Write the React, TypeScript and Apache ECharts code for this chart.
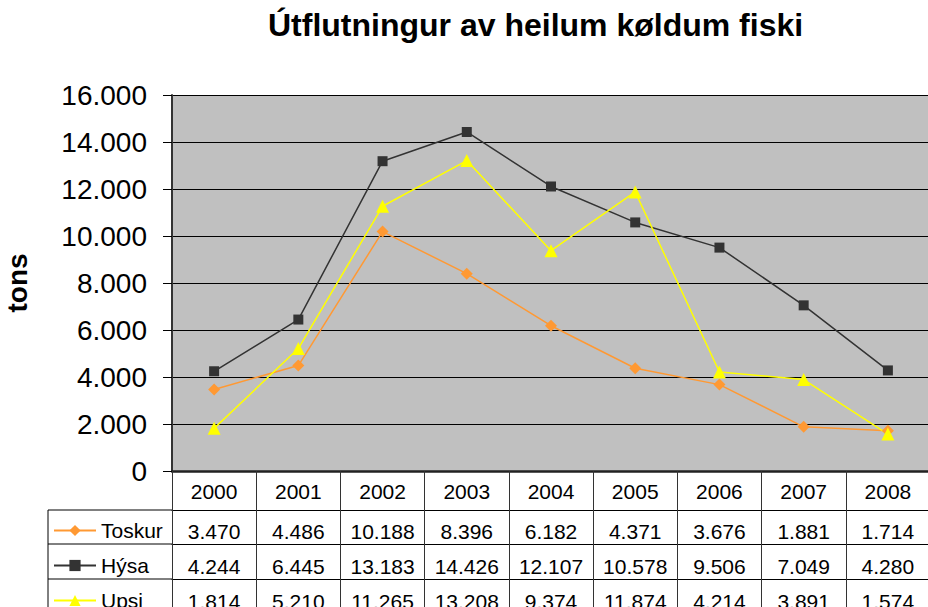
import React, { useEffect, useRef } from "react";
import * as echarts from "echarts";

const years = ["2000", "2001", "2002", "2003", "2004", "2005", "2006", "2007", "2008"];
const toskur = [3470, 4486, 10188, 8396, 6182, 4371, 3676, 1881, 1714];
const hysa = [4244, 6445, 13183, 14426, 12107, 10578, 9506, 7049, 4280];
const upsi = [1814, 5210, 11265, 13208, 9374, 11874, 4214, 3891, 1574];
const seriesNames = ["Toskur", "Hýsa", "Upsi"];
const titleText = "Útflutningur av heilum køldum fiski";
const yName = "tons";

const FONT = "Liberation Sans, Arial, sans-serif";
const fmt = (v: number) => String(v).replace(/\B(?=(\d{3})+(?!\d))/g, ".");

export default function App() {
  const ref = useRef<HTMLDivElement>(null);
  useEffect(() => {
    if (!ref.current) return;
    const chart = echarts.init(ref.current, null, { renderer: "svg" });
    const gridLeft = 172;
    const gridTop = 95;
    const gridH = 376;
    const axisBottom = gridTop + gridH;
    const rowH = [39, 34, 35, 35];
    const rowOffsets = [0, 39, 73, 108];
    const rowData = [years, toskur.map(fmt), hysa.map(fmt), upsi.map(fmt)];
    const labelMargins = [10, 11, 12, 12];

    const xAxes = rowData.map((d, i) => ({
      type: "category",
      data: d,
      position: "bottom",
      offset: rowOffsets[i],
      gridIndex: 0,
      boundaryGap: true,
      axisLine: {
        show: true,
        lineStyle: { color: i === 0 ? "#222" : "#000", width: i === 0 ? 2.5 : 1 },
      },
      axisTick: {
        show: true,
        interval: 0,
        length: rowH[i],
        lineStyle: { color: "#333", width: 1 },
      },
      axisLabel: {
        interval: 0,
        fontSize: 21,
        fontFamily: FONT,
        color: "#000",
        margin: labelMargins[i],
      },
      splitLine: { show: false },
    }));

    const tableTopRow = axisBottom + rowOffsets[1];
    const tableBottom = 607 + 10;

    chart.setOption({
      animation: false,
      backgroundColor: "#fff",
      title: {
        text: titleText,
        left: 268,
        top: 9,
        padding: 0,
        textStyle: { fontSize: 32, fontWeight: "bold", fontFamily: FONT, color: "#000" },
      },
      grid: {
        left: gridLeft,
        top: gridTop,
        width: 758,
        height: gridH,
        containLabel: false,
        outerBoundsMode: "none",
        show: true,
        backgroundColor: "#c0c0c0",
        borderWidth: 0,
      },
      legend: {
        orient: "vertical",
        left: 53,
        top: tableTopRow + 10,
        height: 200,
        padding: 0,
        itemWidth: 42,
        itemHeight: 14,
        itemGap: 14,
        data: seriesNames,
        textStyle: { fontSize: 21, fontFamily: FONT, color: "#000", lineHeight: 21 },
      },
      xAxis: xAxes,
      yAxis: {
        type: "value",
        min: 0,
        max: 16000,
        interval: 2000,
        name: yName,
        nameLocation: "middle",
        nameRotate: 90,
        nameGap: 141,
        nameTextStyle: { fontSize: 28, fontWeight: "bold", fontFamily: FONT, color: "#000" },
        axisLine: { show: true, lineStyle: { color: "#333", width: 2 } },
        axisTick: { show: true, length: 9, lineStyle: { color: "#000", width: 1 } },
        axisLabel: {
          fontSize: 28,
          fontFamily: FONT,
          color: "#000",
          margin: 25,
          formatter: (v: number) => fmt(v),
        },
        splitLine: { show: true, lineStyle: { color: "#000", width: 1.2 } },
      },
      graphic: [
        {
          type: "line",
          shape: { x1: 48, y1: tableTopRow, x2: gridLeft, y2: tableTopRow },
          style: { stroke: "#000", lineWidth: 1 },
        },
        {
          type: "line",
          shape: { x1: 48, y1: axisBottom + rowOffsets[2], x2: gridLeft, y2: axisBottom + rowOffsets[2] },
          style: { stroke: "#000", lineWidth: 1 },
        },
        {
          type: "line",
          shape: { x1: 48, y1: axisBottom + rowOffsets[3], x2: gridLeft, y2: axisBottom + rowOffsets[3] },
          style: { stroke: "#000", lineWidth: 1 },
        },
        {
          type: "line",
          shape: { x1: 48, y1: tableTopRow, x2: 48, y2: tableBottom },
          style: { stroke: "#000", lineWidth: 1 },
        },
      ],
      series: [
        {
          name: seriesNames[0],
          type: "line",
          data: toskur,
          symbol: "diamond",
          symbolSize: 12,
          lineStyle: { color: "#ff9933", width: 1.5 },
          itemStyle: { color: "#ff9933" },
        },
        {
          name: seriesNames[1],
          type: "line",
          data: hysa,
          symbol: "rect",
          symbolSize: 10,
          lineStyle: { color: "#333333", width: 1.5 },
          itemStyle: { color: "#333333" },
        },
        {
          name: seriesNames[2],
          type: "line",
          data: upsi,
          symbol: "triangle",
          symbolSize: 13,
          lineStyle: { color: "#ffff00", width: 1.5 },
          itemStyle: { color: "#ffff00" },
        },
      ],
    });
    return () => chart.dispose();
  }, []);
  return (
    <div
      ref={ref}
      style={{ position: "fixed", left: 0, top: 0, width: 928, height: 607, background: "#fff" }}
    />
  );
}
